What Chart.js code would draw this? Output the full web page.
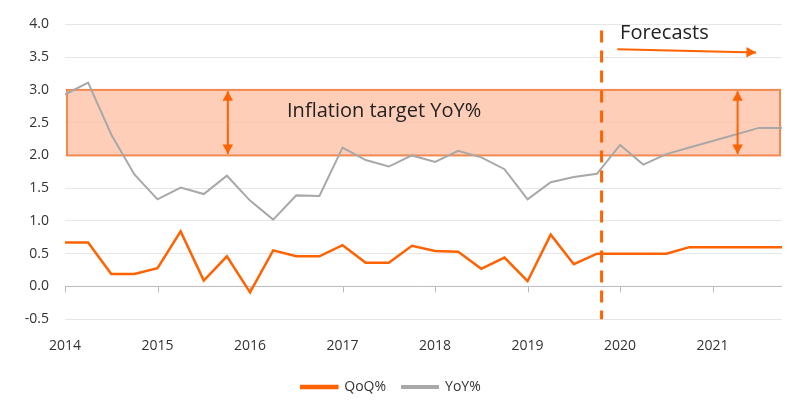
<!DOCTYPE html><html><head><meta charset="utf-8">
<script src="https://cdn.jsdelivr.net/npm/chart.js@4"></script>
<style>body{margin:0;background:#fff}#w{width:800px;height:412px}</style></head><body><div id="w"><canvas id="c"></canvas></div>
<script>
const startYear=2014;
const qoq=[0.67,0.67,0.19,0.19,0.28,0.84,0.09,0.46,-0.09,0.55,0.46,0.46,0.63,0.36,0.36,0.62,0.54,0.53,0.27,0.44,0.08,0.79,0.34,0.5,0.5,0.5,0.5,0.6,0.6,0.6,0.6,0.6];
const yoy=[2.93,3.11,2.32,1.71,1.33,1.51,1.41,1.69,1.31,1.02,1.39,1.38,2.12,1.93,1.83,2.0,1.9,2.07,1.97,1.79,1.33,1.59,1.67,1.72,2.16,1.86,2.02,2.12,2.22,2.32,2.42,2.42];
const yearTicks=[2014,2015,2016,2017,2018,2019,2020,2021];
const forecastStart=2019.8;
const bandLow=2, bandHigh=3;
const toPts=a=>a.map((v,i)=>({x:startYear+i/4,y:v}));
const F='"Open Sans", sans-serif';
const deco={id:'deco',
 beforeDatasetsDraw(ch){const c=ch.ctx,x=ch.scales.x,y=ch.scales.y;
  c.save();
  c.strokeStyle='#bbb';c.lineWidth=1;c.beginPath();c.moveTo(x.left,y.getPixelForValue(0));c.lineTo(x.right,y.getPixelForValue(0));c.stroke();
  yearTicks.forEach(t=>{const px=Math.round(x.getPixelForValue(t))+.5;c.beginPath();c.moveTo(px,y.getPixelForValue(0));c.lineTo(px,y.getPixelForValue(0)+6);c.stroke();});
  const l=x.getPixelForValue(2014)+2,r=x.right-2,t=y.getPixelForValue(bandHigh),b=y.getPixelForValue(bandLow);
  c.fillStyle='rgba(255,190,160,0.75)';c.fillRect(l,t,r-l,b-t);
  c.strokeStyle='#f08a50';c.lineWidth=2;c.strokeRect(l,t,r-l,b-t);
  c.restore();},
 afterDatasetsDraw(ch){const c=ch.ctx,x=ch.scales.x,y=ch.scales.y;c.save();
  const fx=x.getPixelForValue(forecastStart);
  c.strokeStyle='#ff6200';c.lineWidth=3;c.setLineDash([12,8]);c.beginPath();c.moveTo(fx,y.top+6);c.lineTo(fx,y.bottom);c.stroke();c.setLineDash([]);
  c.lineWidth=2;
  const arrow=(x1,y1,x2,y2)=>{c.beginPath();c.moveTo(x1,y1);c.lineTo(x2,y2);c.stroke();const a=Math.atan2(y2-y1,x2-x1);c.beginPath();c.moveTo(x2,y2);c.lineTo(x2-11*Math.cos(a-0.5),y2-11*Math.sin(a-0.5));c.lineTo(x2-11*Math.cos(a+0.5),y2-11*Math.sin(a+0.5));c.closePath();c.fillStyle='#ff6200';c.fill();};
  [2015.76,2021.27].forEach(v=>{const px=x.getPixelForValue(v),m=(y.getPixelForValue(2.98)+y.getPixelForValue(2.02))/2;arrow(px,m,px,y.getPixelForValue(2.98));arrow(px,m,px,y.getPixelForValue(2.02));});
  arrow(x.getPixelForValue(2019.97),y.getPixelForValue(3.62),x.getPixelForValue(2021.47),y.getPixelForValue(3.57));
  c.fillStyle='#222';c.font='20px '+F;c.textBaseline='middle';
  c.fillText('Forecasts',x.getPixelForValue(2020.0),y.getPixelForValue(3.86));
  c.fillText('Inflation target YoY%',x.getPixelForValue(2016.4),y.getPixelForValue(2.68));
  c.restore();}};
new Chart(document.getElementById('c'),{type:'line',
 data:{datasets:[
  {label:'QoQ%',data:toPts(qoq),borderColor:'#ff6200',backgroundColor:'#ff6200',borderWidth:2.5,pointRadius:0,tension:0},
  {label:'YoY%',data:toPts(yoy),borderColor:'#a8a8a8',backgroundColor:'#a8a8a8',borderWidth:2,pointRadius:0,tension:0}]},
 options:{responsive:true,maintainAspectRatio:false,animation:false,
  layout:{padding:{left:0,right:18,top:9,bottom:8}},
  plugins:{legend:{position:'bottom',labels:{boxWidth:36,boxHeight:2,color:'#333',font:{family:F,size:14},padding:16}},tooltip:{enabled:false}},
  scales:{
   x:{type:'linear',min:2014,max:2021.75,afterBuildTicks(a){a.ticks=yearTicks.map(v=>({value:v}));},
      grid:{display:false},border:{display:false},ticks:{color:'#333',padding:10,font:{family:F,size:14},maxRotation:0,callback:v=>String(v)}},
   y:{min:-0.5,max:4,afterFit(a){a.width=65;},ticks:{stepSize:0.5,padding:16,color:'#333',font:{family:F,size:14},callback:v=>v.toFixed(1)},
      grid:{color:'#e6e6e6',drawTicks:false},border:{display:false}}}},
 plugins:[deco]});
</script></body></html>
